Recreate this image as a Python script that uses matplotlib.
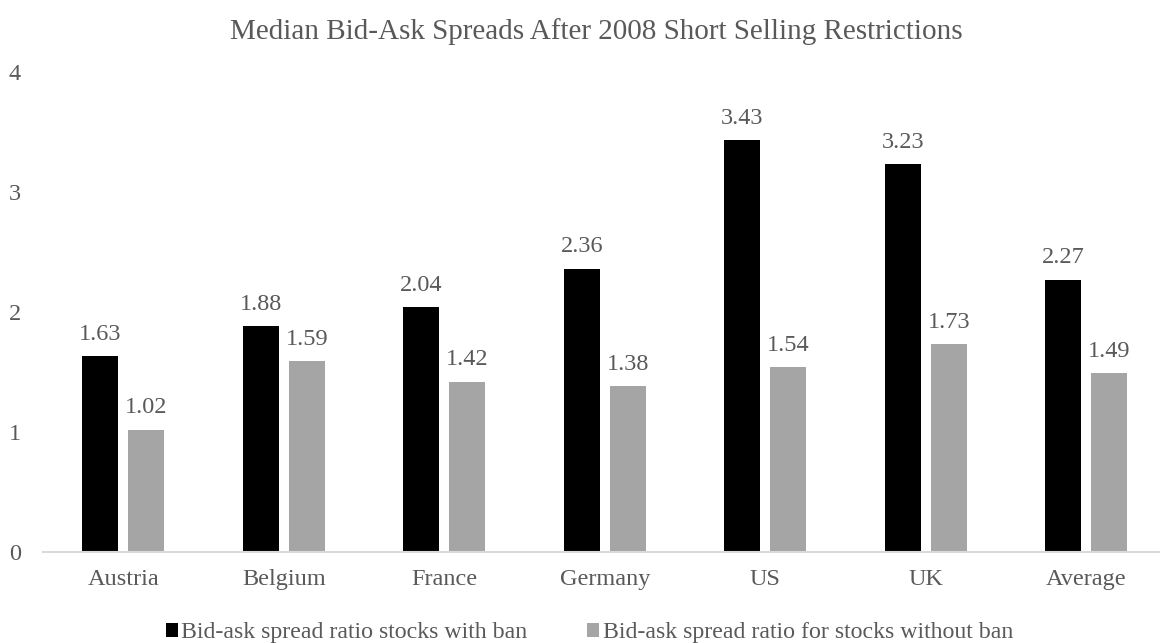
import matplotlib.pyplot as plt
import numpy as np

plt.rcParams['font.family'] = ['Liberation Serif', 'DejaVu Serif']

countries = ['Austria', 'Belgium', 'France', 'Germany', 'US', 'UK', 'Average']
with_ban = [1.63, 1.88, 2.04, 2.36, 3.43, 3.23, 2.27]
without_ban = [1.02, 1.59, 1.42, 1.38, 1.54, 1.73, 1.49]
series_names = ['Bid-ask spread ratio stocks with ban',
                'Bid-ask spread ratio for stocks without ban']

text_color = '#595959'

fig = plt.figure(figsize=(11.6, 6.43), dpi=100)
ax = fig.add_axes([0.0371, 0.1415, 0.9685, 0.7465])

x = np.arange(len(countries))
w = 0.224
off = 0.143
b1 = ax.bar(x - off, with_ban, w, color='black', label=series_names[0])
b2 = ax.bar(x + off, without_ban, w, color='#a5a5a5', label=series_names[1])

# value labels above each bar
for bars, vals in ((b1, with_ban), (b2, without_ban)):
    for r, v in zip(bars, vals):
        ax.annotate(f'{v:.2f}', (r.get_x() + r.get_width() / 2, v),
                    xytext=(0, 12), textcoords='offset points',
                    ha='center', va='baseline', fontsize=17.5,
                    color=text_color)

ax.set_xlim(-0.5, len(countries) - 0.5)
ax.set_ylim(0, 4)
ax.set_yticks([0, 1, 2, 3, 4])
ax.set_xticks(x)
ax.set_xticklabels(countries)
ax.tick_params(axis='both', length=0, labelsize=17.5, colors=text_color)
ax.tick_params(axis='x', pad=12)
ax.tick_params(axis='y', pad=16)
for s in ['top', 'right', 'left']:
    ax.spines[s].set_visible(False)
ax.spines['bottom'].set_color('#d9d9d9')
ax.spines['bottom'].set_linewidth(1.5)

fig.text(0.514, 0.951,
         'Median Bid-Ask Spreads After 2008 Short Selling Restrictions',
         ha='center', va='center', fontsize=21, color=text_color)

fig.legend(handles=[b1, b2], loc='center', bbox_to_anchor=(0.508, 0.016),
           ncol=2, frameon=False, fontsize=17.2, handlelength=0.5,
           handleheight=0.5, handletextpad=0.15, columnspacing=2.5,
           labelcolor=text_color, borderpad=0)

fig.savefig('out.png', dpi=100)
